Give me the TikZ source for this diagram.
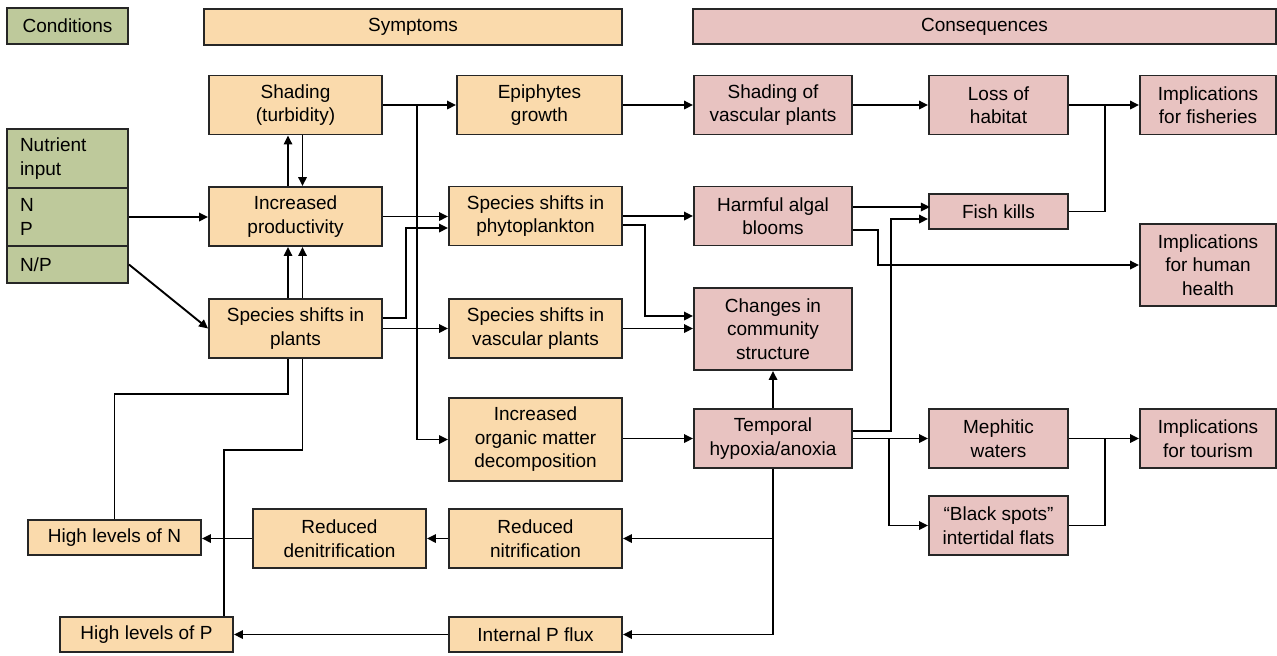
\documentclass[tikz,border=0pt]{standalone}
\usepackage{fontspec}
\setmainfont{Liberation Sans}
\usepackage{tikz}
\usetikzlibrary{arrows.meta,positioning,calc}
\definecolor{condgreen}{RGB}{190,201,155}
\definecolor{sympfill}{RGB}{250,218,172}
\definecolor{consfill}{RGB}{232,195,193}

\begin{document}
\begin{tikzpicture}[x=0.5pt, y=-0.5pt,
  font=\fontsize{9.5}{11.75}\selectfont, >={Triangle[length=4.5pt,width=4.2pt]},
  line width=0.95pt,
  box/.style={draw=black!85, line width=0.95pt, align=center, inner sep=0pt,
              minimum width=86.5pt, minimum height=29.5pt},
  cbox/.style={box, fill=condgreen, minimum width=60.5pt},
  nbox/.style={cbox, align=left, text width=47.5pt, inner xsep=6.5pt},
  sbox/.style={box, fill=sympfill},
  kbox/.style={box, fill=consfill, minimum width=79pt}]
\useasboundingbox (0,0) rectangle (1277,655);
% headers
\node[cbox, minimum height=18pt] (cond) at (67.5,26) {Conditions};
\node[sbox, minimum width=209pt, minimum height=18pt] (symp) at (413,27) {Symptoms};
\node[kbox, minimum width=291.5pt, minimum height=17.5pt] (cons) at (984.5,26.5) {Consequences};
% conditions
\node[nbox, minimum height=29.5pt] (nut) at (67.5,158.5) {Nutrient\\input};
\node[nbox, minimum height=29pt] (np) at (67.5,217) {N\\P};
\node[nbox, minimum height=18.5pt] (ratio) at (67.5,264.5) {N/P};
% symptoms
\node[sbox] (shade) at (295.5,105) {Shading\\(turbidity)};
\node[sbox] (prod) at (295.5,216.5) {Increased\\productivity};
\node[sbox] (plants) at (295.5,328.5) {Species shifts in\\plants};
\node[sbox, minimum width=82.5pt] (epi) at (539.5,105) {Epiphytes\\growth};
\node[sbox] (phyto) at (535.5,216) {Species shifts in\\phytoplankton};
\node[sbox] (vasc) at (535.5,328.5) {Species shifts in\\vascular plants};
\node[sbox, minimum height=41.5pt] (organic) at (535.5,439.5) {Increased\\organic matter\\decomposition};
\node[sbox] (nitri) at (535.5,538.5) {Reduced\\nitrification};
\node[sbox] (denitri) at (339.5,538.5) {Reduced\\denitrification};
\node[sbox, minimum height=17.5pt] (highN) at (114.5,537.5) {High levels of N};
\node[sbox, minimum height=17.5pt] (highP) at (146.5,634.5) {High levels of P};
\node[sbox, minimum height=17.5pt] (pflux) at (535.5,634.5) {Internal P flux};
% consequences
\node[kbox] (shadev) at (773,105) {Shading of\\vascular plants};
\node[kbox] (hab) at (773,216) {Harmful algal\\blooms};
\node[kbox, minimum height=41pt] (commun) at (773,329) {Changes in\\community\\structure};
\node[kbox] (hypox) at (773,438.5) {Temporal\\hypoxia/anoxia};
\node[kbox, minimum width=69.5pt] (habitat) at (998.5,105) {Loss of\\habitat};
\node[kbox, minimum width=69.5pt, minimum height=17.5pt] (fish) at (998.5,211.5) {Fish kills};
\node[kbox, minimum width=69.5pt] (meph) at (998.5,438.5) {Mephitic\\waters};
\node[kbox, minimum width=69.5pt] (black) at (998.5,525.5) {“Black spots”\\intertidal flats};
\node[kbox, minimum width=68pt] (fisher) at (1208,105) {Implications\\for fisheries};
\node[kbox, minimum width=68pt, minimum height=41pt] (health) at (1208,265) {Implications\\for human\\health};
\node[kbox, minimum width=68pt] (tourism) at (1208,438.5) {Implications\\for tourism};
% conditions -> symptoms
\draw[->] (np.east) -- (np.east -| prod.west);
\draw[->] (ratio.east) -- (plants.west);
\draw[->] ([xshift=-3.75pt]prod.north) -- ([xshift=-3.75pt]shade.south);
\draw[->] ([xshift=3.5pt]shade.south) -- ([xshift=3.5pt]prod.north);
\draw[->] ([xshift=-3.75pt]plants.north) -- ([xshift=-3.75pt]prod.south);
\draw[->] ([xshift=3.5pt]plants.north) -- ([xshift=3.5pt]prod.south);
\draw ([xshift=-3.75pt]plants.south) -- ++(0,35) -| (highN.north);
\draw ([xshift=3.5pt]plants.south) -- ++(0,91) -| ([xshift=38.75pt]highP.north);
% symptoms
\draw[->] (shade.east) -- (shade.east -| epi.west);
\draw[->] (shade.east) ++(34,0) |- (organic.west);
\draw[->] (prod.east) -- (prod.east -| phyto.west);
\draw[->] ([yshift=5.25pt]plants.east) -- ++(23,0) |- ([yshift=-6pt]phyto.west);
\draw[->] (plants.east) -- (vasc.west);
\draw[->] (epi.east) -- (shadev.west);
\draw[->] (phyto.east) -- (hab.west);
\draw[->] ([yshift=-4.5pt]phyto.east) -- ++(22,0) |- ([yshift=6.5pt]commun.west);
\draw[->] (vasc.east) -- (vasc.east -| commun.west);
\draw[->] (organic.east |- hypox.west) -- (hypox.west);
% consequences
\draw[->] (shadev.east) -- (habitat.west);
\draw[->] (habitat.east) -- (fisher.west);
\draw (fish.east) -| ([xshift=18pt]habitat.east);
\draw[->] ([yshift=4.5pt]hab.east) -- ++(77,0);
\draw[->] ([yshift=-7pt]hab.east) -- ++(25,0) |- (health.west);
\draw[->] (hypox.north) -- (commun.south);
\draw[->] ([yshift=3.75pt]hypox.east) -- ++(38,0) |- ([yshift=-3.75pt]fish.west);
\draw[->] (hypox.east) -- (meph.west);
\draw[->] (hypox.east) ++(36,0) |- (black.west);
\draw[->] (meph.east) -- (tourism.west);
\draw (black.east) -| ([xshift=18pt]meph.east);
% feedback loop
\draw[->] (hypox.south) |- (nitri.east);
\draw[->] (hypox.south) |- (pflux.east);
\draw[->] (nitri.west) -- (denitri.east);
\draw[->] (denitri.west) -- (denitri.west -| highN.east);
\draw[->] (pflux.west) -- (highP.east);
\end{tikzpicture}
\end{document}
